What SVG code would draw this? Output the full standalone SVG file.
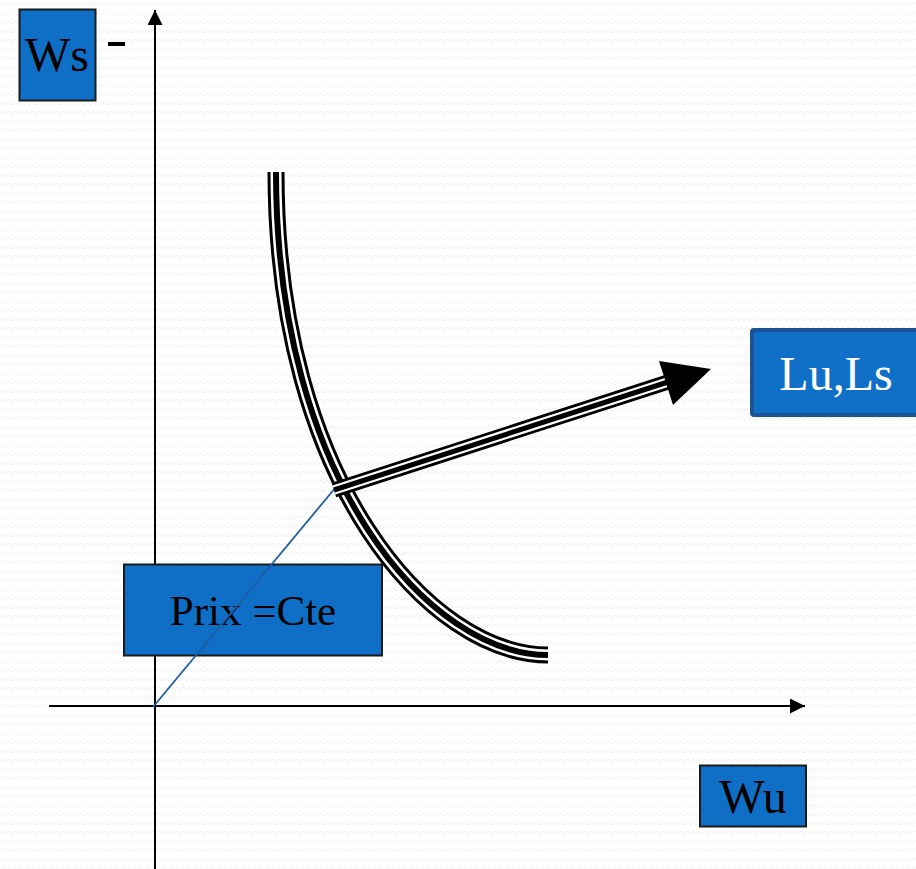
<svg xmlns="http://www.w3.org/2000/svg" width="916" height="869" viewBox="0 0 916 869">
  <defs>
    <pattern id="bg" width="12" height="9" patternUnits="userSpaceOnUse">
      <rect width="12" height="9" fill="#ffffff"/>
      <path d="M0 6 L3 3 L6 6 L9 3 L12 6" fill="none" stroke="#f0f0f0" stroke-width="1"/>
    </pattern>
    <marker id="axisHead" viewBox="0 0 15 15" refX="15" refY="7.5" markerWidth="15" markerHeight="15" markerUnits="userSpaceOnUse" orient="auto">
      <path d="M0 0 L15 7.5 L0 15 Z" fill="#000"/>
    </marker>
    <path id="curve" d="M276 172 C276 483 431 655 548 655"/>
    <path id="shaft" d="M334 490 L668 382"/>
  </defs>
  <style>
    .box { fill: #0f6fc6; stroke: #1a1a1a; stroke-width: 2; }
    .lbl { font-family: "Liberation Serif", "Times New Roman", serif; fill: #000; text-anchor: middle; }
    .axis { stroke: #000; stroke-width: 2; fill: none; }
    .outer { fill: none; stroke: #000; }
    .gap { fill: none; stroke: #fff; }
    .core { fill: none; stroke: #000; }
  </style>
  <rect width="916" height="869" fill="url(#bg)"/>

  <g id="connectors">
    <line class="axis" x1="155" y1="869" x2="155" y2="10" marker-end="url(#axisHead)"/>
    <line class="axis" x1="49" y1="706" x2="805" y2="706" marker-end="url(#axisHead)"/>
  </g>

  <g id="node-prix">
    <rect class="box" x="124" y="564.5" width="258" height="91"/>
    <text class="lbl" x="253" y="625" font-size="43">Prix =Cte</text>
  </g>

  <g id="connectors-curves">
    <line x1="153" y1="707" x2="336" y2="487" stroke="#1f5ea0" stroke-width="1.8"/>
    <g id="indifference-curve">
      <use href="#curve" class="outer" stroke-width="17"/>
      <use href="#curve" class="gap" stroke-width="11"/>
      <use href="#curve" class="core" stroke-width="6"/>
    </g>
    <g id="arrow">
      <use href="#shaft" class="outer" stroke-width="15"/>
      <use href="#shaft" class="gap" stroke-width="9.5"/>
      <use href="#shaft" class="core" stroke-width="5"/>
      <path d="M711 369 L659 361 L673 405 Z" fill="#000"/>
    </g>
  </g>

  <g id="node-ws">
    <rect class="box" x="19.5" y="9.5" width="76" height="91"/>
    <text class="lbl" x="57" y="71" font-size="48">Ws</text>
  </g>
  <g id="dash">
    <rect x="108" y="42" width="17" height="4" fill="#000"/>
  </g>

  <g id="node-wu">
    <rect class="box" x="700" y="765.5" width="106" height="61"/>
    <text class="lbl" x="753" y="813" font-size="48">Wu</text>
  </g>

  <g id="node-luls">
    <rect x="752" y="330" width="168" height="85" rx="2" fill="#1070c8" stroke="#1a5494" stroke-width="4"/>
    <text class="lbl" x="836" y="390" font-size="48" style="fill:#fff">Lu,Ls</text>
  </g>
</svg>
